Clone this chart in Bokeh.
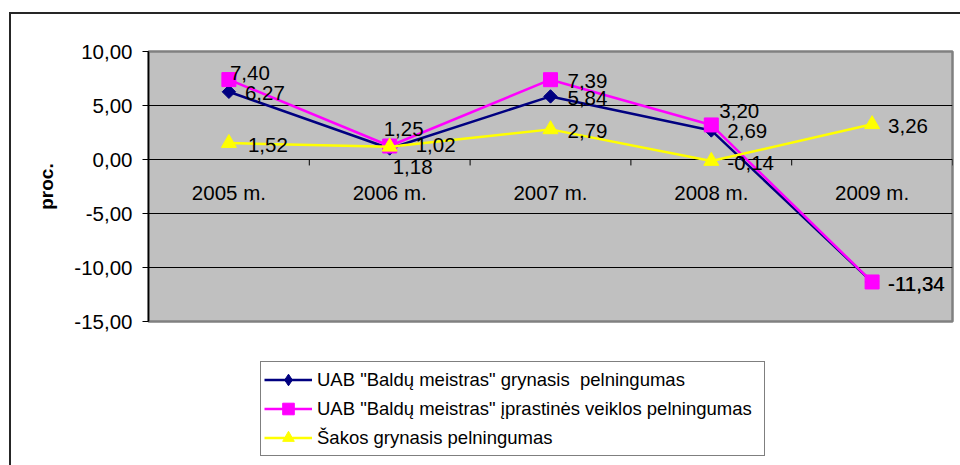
from bokeh.plotting import figure
from bokeh.layouts import column
from bokeh.models import (ColumnDataSource, Legend, LegendItem, FixedTicker,
                          Range1d)
from bokeh.core.properties import value
from bokeh.embed import file_html
from bokeh.resources import INLINE

# ---------------- data ----------------
categories = ["2005 m.", "2006 m.", "2007 m.", "2008 m.", "2009 m."]
net_company = [6.27, 1.02, 5.84, 2.69, -11.34]
ordinary_company = [7.40, 1.25, 7.39, 3.20, -11.34]
industry_net = [1.52, 1.18, 2.79, -0.14, 3.26]
series_names = [
    'UAB "Baldų meistras" grynasis  pelningumas',
    'UAB "Baldų meistras" įprastinės veiklos pelningumas',
    'Šakos grynasis pelningumas',
]
y_ticks = [-15, -10, -5, 0, 5, 10]
y_tick_labels = ["-15,00", "-10,00", "-5,00", "0,00", "5,00", "10,00"]
y_title = "proc."

# ---------------- styles ----------------
FONT = "Liberation Sans"
TXT = "20.5px"
colors = ["#000080", "#FF00FF", "#FFFF00"]
markers = [("square", 9.5, 0.785398), ("square", 14, 0.0), ("triangle", 15, 0.0)]
legend_markers = [("diamond", 12, 0.0), ("square", 11, 0.0), ("triangle", 12, 0.0)]
# label offsets (screen px) per series, per point
label_dx = [[16, 26, 17, 16, 16], [1, -6, 17, 8, 16], [19, 3, 17, 16, 16]]
label_dy = [[1, -3, 2, 1, 2], [-7, -17, 1, -14, 2], [1.5, 20, 1.5, 2, 1.5]]
TICK_LEN = 0.55

n = len(categories)
xs = [i + 0.5 for i in range(n)]
series = [net_company, ordinary_company, industry_net]

# ---------------- chart ----------------
p = figure(width=960, height=340,
           x_range=Range1d(0, n), y_range=Range1d(y_ticks[0], y_ticks[-1]),
           output_backend="svg", toolbar_location=None,
           x_axis_type=None,
           min_border_left=148, min_border_right=8,
           min_border_top=51, min_border_bottom=19,
           background_fill_color="#C0C0C0",
           border_fill_color="white", border_fill_alpha=0)

p.outline_line_color = "#808080"
p.outline_line_width = 2.5

p.xgrid.visible = False
p.ygrid.ticker = FixedTicker(ticks=y_ticks[1:-1])
p.ygrid.grid_line_color = "black"
p.ygrid.grid_line_width = 1

ax = p.yaxis[0]
ax.ticker = FixedTicker(ticks=y_ticks)
ax.major_label_overrides = {t: l for t, l in zip(y_ticks, y_tick_labels)}
ax.major_label_text_font = FONT
ax.major_label_text_font_size = TXT
ax.major_label_text_color = "black"
ax.major_tick_out = 6
ax.major_tick_in = 0
ax.minor_tick_out = 0
ax.minor_tick_in = 0
ax.major_tick_line_color = "black"
ax.axis_line_color = "black"
ax.axis_line_width = 1.5
ax.major_label_standoff = 10
ax.axis_label = y_title
ax.axis_label_text_font = FONT
ax.axis_label_text_font_style = "bold"
ax.axis_label_text_font_size = "19px"
ax.axis_label_text_color = "black"
ax.axis_label_standoff = 14

# category axis at zero: ticks at category boundaries + labels
bounds = list(range(1, n + 1))
p.segment(x0=bounds, y0=[0] * n, x1=bounds, y1=[-TICK_LEN] * n,
          line_color="black", line_width=1)
p.text(x=xs, y=[0] * n, text=categories, y_offset=33,
       text_font=value(FONT), text_font_size=TXT, text_color="black",
       text_align="center", text_baseline="middle")

for vals, col, (mk, sz, ang) in zip(series, colors, markers):
    src = ColumnDataSource(dict(x=xs, y=vals))
    p.line("x", "y", source=src, line_color=col, line_width=2.5)
    p.scatter("x", "y", source=src, marker=mk, size=sz, angle=ang,
              fill_color=col, line_color=col)

for vals, dx, dy in zip(series, label_dx, label_dy):
    src = ColumnDataSource(dict(
        x=xs, y=vals, dx=dx, dy=dy,
        t=[f"{v:.2f}".replace(".", ",") for v in vals]))
    p.text("x", "y", text="t", x_offset="dx", y_offset="dy", source=src,
           text_font=value(FONT), text_font_size=TXT, text_color="black",
           text_align="left", text_baseline="middle")

# ---------------- legend strip ----------------
# same series as the chart, viewed through a range that shows none of them,
# so that only their legend entries are visible
q = figure(width=960, height=125, x_range=Range1d(n + 1, n + 2),
           y_range=Range1d(y_ticks[0], y_ticks[-1]),
           output_backend="svg", toolbar_location=None,
           x_axis_type=None, y_axis_type=None, min_border=0,
           background_fill_alpha=0, border_fill_alpha=0)
q.outline_line_color = None
q.grid.visible = False

items = []
for vals, name, col, (mk, sz, ang) in zip(series, series_names, colors, legend_markers):
    src = ColumnDataSource(dict(x=xs, y=vals))
    lr = q.line("x", "y", source=src, line_color=col, line_width=2.5)
    sr = q.scatter("x", "y", source=src, marker=mk, size=sz, angle=ang,
                   fill_color=col, line_color=col)
    items.append(LegendItem(label=name, renderers=[lr, sr]))

legend = Legend(items=items, location=(112, 9))
legend.border_line_color = "black"
legend.border_line_width = 1
legend.background_fill_color = "white"
legend.background_fill_alpha = 1
legend.padding = 3
legend.spacing = 0
legend.margin = 0
legend.glyph_width = 48
legend.glyph_height = 29
legend.label_height = 29
legend.label_width = 444
legend.label_standoff = 5
legend.label_text_font = FONT
legend.label_text_font_size = "18.5px"
legend.label_text_color = "black"
q.add_layout(legend)

root = column(p, q, spacing=0)
# outer chart border (top and left edges visible in the crop)
root.styles = {"box-shadow": "inset 9px 12px 0 0 white, inset 11px 14px 0 0 #262626",
               "background-color": "white"}

open("out.html", "w").write(file_html(root, INLINE))
